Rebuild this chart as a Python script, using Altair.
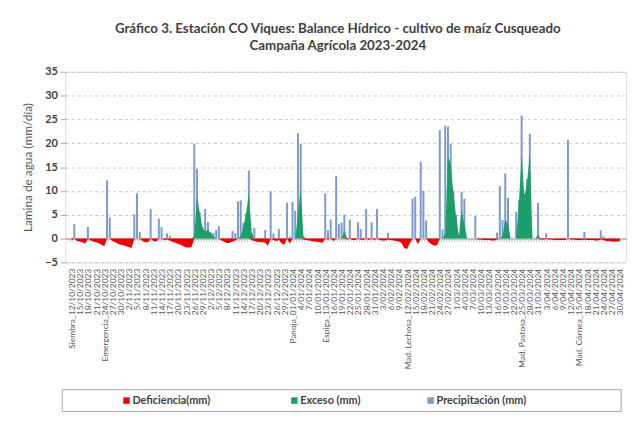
import json
import altair as alt
import pandas as pd

# ---------------- data (one value per day, 12/10/2023 .. 30/04/2024) ----------------
tick_labels = [
    "Siembra_12/10/2023", "15/10/2023", "18/10/2023", "21/10/2023", "Emergencia_24/10/2023",
    "27/10/2023", "30/10/2023", "2/11/2023", "5/11/2023", "8/11/2023", "11/11/2023",
    "14/11/2023", "17/11/2023", "20/11/2023", "23/11/2023", "26/11/2023", "29/11/2023",
    "2/12/2023", "5/12/2023", "8/12/2023", "11/12/2023", "14/12/2023", "17/12/2023",
    "20/12/2023", "23/12/2023", "26/12/2023", "29/12/2023", "Panoja_01/01/2024",
    "4/01/2024", "7/01/2024", "10/01/2024", "Espiga_13/01/2024", "16/01/2024",
    "19/01/2024", "22/01/2024", "25/01/2024", "28/01/2024", "31/01/2024", "3/02/2024",
    "6/02/2024", "9/02/2024", "Mad. Lechosa_12/02/2024", "15/02/2024", "18/02/2024",
    "21/02/2024", "24/02/2024", "27/02/2024", "1/03/2024", "4/03/2024", "7/03/2024",
    "10/03/2024", "13/03/2024", "16/03/2024", "19/03/2024", "22/03/2024",
    "Mad. Pastosa_25/03/2024", "28/03/2024", "31/03/2024", "3/04/2024", "6/04/2024",
    "9/04/2024", "12/04/2024", "Mad. Córnea_15/04/2024", "18/04/2024", "21/04/2024",
    "24/04/2024", "27/04/2024", "30/04/2024",
]

# Precipitación (mm)
prec_oct = [0, 3.0, 0, 0, 0, 0, 2.4, 0, 0, 0, 0, 0, 0, 12.2, 4.4, 0, 0, 0, 0, 0]
prec_nov = [0, 0, 0, 5.1, 9.5, 1.4, 0, 0, 0, 6.2, 0, 0, 4.2, 2.4, 0, 1.1, 0.6,
            0, 0, 0, 0, 0, 0, 0, 0, 19.9, 14.6, 5.5, 2.5, 6.2]
prec_dec = [3.4, 1.3, 1.2, 1.8, 2.6, 0, 0, 0, 0, 1.6, 1.1, 7.8, 8.0, 3.3, 5.3, 14.3,
            0, 2.2, 0, 0, 0, 1.8, 0, 9.9, 1.1, 0, 2.0, 0, 0, 7.5, 0.4]
prec_jan = [7.7, 5.8, 22.1, 19.9, 0, 0, 0, 0, 0, 0, 0, 0, 9.5, 1.8, 4.0, 0, 13.1, 3.0,
            3.3, 5.0, 0, 4.0, 0, 0, 3.4, 2.0, 0, 6.2, 0, 3.4, 0]
prec_feb = [6.2, 0, 0, 0, 1.2, 0, 0, 0, 0, 0, 0, 0, 0, 8.4, 8.8, 0, 16.1, 10.0, 3.8,
            0, 0, 0, 0, 22.8, 1.9, 23.7, 23.5, 19.8, 10.0]
prec_mar = [5.0, 1.0, 9.8, 8.3, 0, 0, 0, 4.7, 0, 0, 0, 0, 0, 0, 0, 1.25, 11.0, 3.9,
            13.7, 8.5, 0, 0, 5.6, 8.0, 25.8, 9.5, 12.5, 22.0, 0, 0, 7.5]
prec_apr = [0, 0, 1.1, 0, 0, 0, 0, 0, 0, 0, 20.7, 0, 0, 0, 0, 0, 1.4, 0, 0, 0, 0, 0,
            1.7, 0.5, 0, 0, 0, 0, 0, 0]

# Exceso (mm)
exc_oct = [0] * 20
exc_nov = [0] * 25 + [0.5, 9.0, 5.3, 2.2, 1.5]
exc_dec = [1.8, 1.2, 0.5, 0, 0, 0, 0, 0, 0, 0, 0, 0, 0.5, 2.5, 5.3, 9.4, 1.5,
           0, 0, 0, 0, 0, 0, 0, 0, 0, 0, 0, 0, 0, 0]
exc_jan = [0, 0, 5.0, 10.5, 0.5, 0, 0, 0, 0, 0, 0, 0, 0, 0, 0, 0, 0, 0, 0, 1.8,
           0, 0, 0, 0, 0, 0, 0, 0, 0, 0, 0]
exc_feb = [0] * 25 + [1.0, 17.5, 15.5, 9.5]
exc_mar = [4.5, 0.5, 6.0, 3.0, 0, 0, 0, 0, 0, 0, 0, 0, 0, 0, 0, 0, 0, 0.5, 4.0, 3.0,
           0, 0, 0, 7.4, 17.8, 8.7, 11.9, 17.8, 0, 0, 0.8]
exc_apr = [0] * 30

# Deficiencia (mm)
def_oct = [-0.4, 0, -0.5, -0.6, -0.8, -1.1, 0, -0.4, -0.6, -0.8, -1.0, -1.3, -1.6,
           0, 0, -0.5, -0.8, -1.1, -1.3, -1.4]
def_nov = [-1.6, -1.8, -2.0, 0, 0, 0, -0.5, -0.8, -0.8, 0, -0.5, -0.6, 0, 0, -0.3,
           -0.2, -0.4, -0.7, -0.9, -1.1, -1.3, -1.6, -1.9, -1.9, -1.8, 0, 0, 0, 0, 0]
def_dec = [0, 0, 0, 0, 0, -0.4, -0.7, -1.0, -0.9, -0.6, -0.4, 0, 0, 0, 0, 0,
           -0.3, -0.5, -0.7, -0.8, -0.8, -0.9, -1.5, 0, -0.3, -0.5, -0.3, -1.0, -1.3, 0, -1.1]
def_jan = [0, 0, 0, 0, -0.2, -0.3, -0.4, -0.5, -0.6, -0.7, -0.8, -0.9, 0, -0.2, 0, -0.5,
           0, 0, 0, 0, -0.2, 0, -0.3, -0.3, 0, -0.2, -0.3, 0, -0.3, 0, -0.3]
def_feb = [0, -0.3, -0.4, -0.4, -0.2, -0.3, -0.4, -0.5, -0.6, -1.0, -2.0, -2.2, -1.0,
           0, 0, -1.2, 0, 0, 0, -0.8, -1.2, -1.5, -1.4, 0, 0, 0, 0, 0, 0]
def_mar = [0, 0, 0, 0, 0, 0, 0, 0, -0.2, -0.2, -0.3, -0.3, -0.3, -0.4, -0.4, -0.2,
           0, 0, 0, 0, 0, 0, 0, 0, 0, 0, 0, 0, 0, 0, 0]
def_apr = [-0.2, -0.2, -0.1, -0.2, -0.2, -0.3, -0.3, -0.3, -0.3, -0.3, 0, -0.2, -0.2,
           -0.3, -0.3, -0.3, -0.2, -0.3, -0.3, -0.3, -0.4, -0.4, -0.2, -0.3, -0.5, -0.5,
           -0.6, -0.6, -0.6, -0.6]

series_names = ["Deficiencia(mm)", "Exceso (mm)", "Precipitación (mm)"]
series_colors = ["#f00000", "#1a9e6a", "#7b9acb"]

precipitacion = prec_oct + prec_nov + prec_dec + prec_jan + prec_feb + prec_mar + prec_apr
exceso = exc_oct + exc_nov + exc_dec + exc_jan + exc_feb + exc_mar + exc_apr
deficiencia = def_oct + def_nov + def_dec + def_jan + def_feb + def_mar + def_apr
n_days = len(precipitacion)

df = pd.DataFrame({
    "d": list(range(n_days)),
    "P": precipitacion,
    "E": exceso,
    "D": deficiencia,
})

FONT = "Lato"
GRAY = "#a6a6a6"

x_enc = alt.X(
    "d:Q",
    scale=alt.Scale(domain=[-0.5, n_days - 0.5], nice=False, zero=False),
    axis=alt.Axis(
        values=list(range(0, n_days, 3)),
        labelExpr=json.dumps(tick_labels, ensure_ascii=False) + "[round(datum.value/3)]",
        labelAngle=270, labelAlign="right", labelBaseline="middle",
        labelFontSize=8.5, labelFont=FONT, labelColor="#595959",
        labelOverlap=False, labelPadding=6, ticks=False, grid=False,
        domain=False, title=None,
    ),
)
y_enc = alt.Y(
    "v:Q",
    scale=alt.Scale(domain=[-5, 35], nice=False),
    axis=alt.Axis(
        values=[-5, 0, 5, 10, 15, 20, 25, 30, 35], labelFontSize=11, labelFont=FONT,
        labelFontWeight="bold", labelColor="#404040", tickColor=GRAY, tickSize=5,
        labelPadding=3, labelOverlap=False, gridDash=[3, 3], gridColor="#c8c8c8",
        domain=False, title="Lamina de agua (mm/día)", titleFontSize=12,
        titleFont=FONT, titleFontWeight="normal", titleColor="#595959",
        titlePadding=10,
    ),
)

bars = alt.Chart(df).transform_filter("datum.P > 0").transform_calculate(
    v="datum.P"
).mark_bar(width=2, color=series_colors[2]).encode(x=x_enc, y=y_enc)

# category-boundary tick marks along the zero line
zero_ticks = alt.Chart(df).transform_calculate(d="datum.d - 0.5", v="0").mark_rule(
    color="#c0c0c0", strokeWidth=1
).encode(x=x_enc, y=y_enc, y2=alt.datum(-0.7))

zero_line = alt.Chart(df).transform_calculate(v="0").mark_rule(color="#c0c0c0").encode(
    y=y_enc, x=alt.value(0), x2=alt.value(568)
)

excess = alt.Chart(df).transform_calculate(v="datum.E").mark_area(
    interpolate="linear", color=series_colors[1]
).encode(x=x_enc, y=y_enc)

deficit = alt.Chart(df).transform_calculate(v="datum.D").mark_area(
    interpolate="linear", color=series_colors[0]
).encode(x=x_enc, y=y_enc)

# ---------------- legend (drawn in a box below the axis labels) ----------------
one = pd.DataFrame({"k": [0]})
legend_box = alt.Chart(one).mark_rect(
    fill="white", stroke=GRAY, strokeWidth=1
).encode(x=alt.value(-3), x2=alt.value(563), y=alt.value(322), y2=alt.value(344))

legend_layers = []
for name, col, px in zip(series_names, series_colors, [62, 232, 370]):
    legend_layers.append(
        alt.Chart(one).mark_square(size=42, color=col, opacity=1).encode(
            x=alt.value(px), y=alt.value(333)
        )
    )
    legend_layers.append(
        alt.Chart(one).mark_text(
            text=name, align="left", baseline="middle", font=FONT, fontSize=11,
            fontWeight="bold", color="#404040",
        ).encode(x=alt.value(px + 6), y=alt.value(333.5))
    )

chart = alt.layer(
    legend_box, bars, zero_ticks, zero_line, excess, deficit, *legend_layers
).properties(
    width=568, height=193,
    autosize=alt.AutoSizeParams(type="none"),
    padding={"left": 58, "top": 62, "right": 9, "bottom": 151},
    title=alt.Title(
        text=["Gráfico 3. Estación CO Viques: Balance Hídrico - cultivo de maíz Cusqueado",
              "Campaña Agrícola 2023-2024"],
        font=FONT, fontSize=13.5, fontWeight="bold", color="#404040",
        anchor="middle", frame="group", dx=-8, offset=14, lineHeight=17,
    ),
).configure_view(stroke=GRAY, strokeWidth=1).configure_axis(
    labelOverlap=False
).configure(background="white")

chart.save("out.html", embed_options={"renderer": "svg", "actions": False})
